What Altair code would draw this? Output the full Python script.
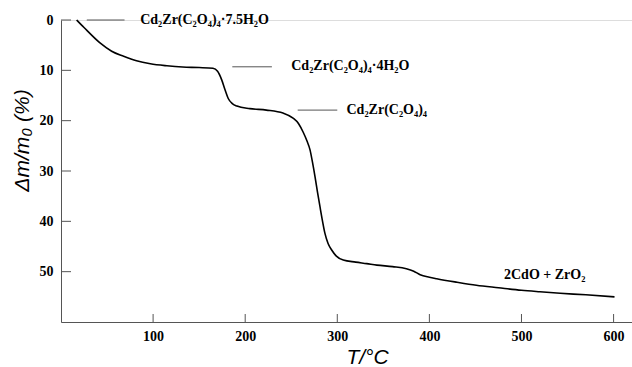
import altair as alt
import pandas as pd

# TGA curve
temp = [17, 25, 42, 55, 68, 82, 97, 115, 132, 150, 165, 170, 174.5, 178, 181.6, 186, 191,
        205, 223, 241, 252, 258, 263, 267, 270.4, 273, 275.8, 278.5, 281.2, 284, 286.6, 290,
        293.9, 299, 306.5, 320, 332, 343, 360, 375, 383, 390, 400, 408, 430, 451, 475, 500,
        520, 542, 570, 601]
mass_loss = [0, 1.5, 4.5, 6.2, 7.2, 8.1, 8.7, 9.1, 9.35, 9.45, 9.6, 10.2, 11.9, 13.8, 15.6, 16.6, 17.1,
             17.6, 17.9, 18.5, 19.5, 20.6, 22.3, 24.0, 25.8, 28.2, 31.1, 34.2, 37.1, 40.0, 42.4, 44.4,
             45.7, 46.9, 47.7, 48.1, 48.4, 48.7, 49.0, 49.4, 49.9, 50.6, 51.1, 51.4, 52.1, 52.7, 53.2, 53.7,
             54.0, 54.3, 54.6, 55.0]

# annotations
label_text = ["Cd₂Zr(C₂O₄)₄·7.5H₂O", "Cd₂Zr(C₂O₄)₄·4H₂O", "Cd₂Zr(C₂O₄)₄", "2CdO + ZrO₂"]
label_t = [86, 250, 310, 481]
label_m = [0, 9.2, 17.9, 50.6]
leader_t1 = [28, 186, 257]
leader_t2 = [69, 229, 300]
leader_m = [0, 9.3, 17.9]

x_ticks = [100, 200, 300, 400, 500, 600]
y_ticks = [0, 10, 20, 30, 40, 50]

curve = pd.DataFrame({"T": temp, "m": mass_loss})
labels = pd.DataFrame({"T": label_t, "m": label_m, "text": label_text})
leaders = pd.DataFrame({"T": leader_t1, "T2": leader_t2, "m": leader_m})
xt = pd.DataFrame({"T": x_ticks})
yt = pd.DataFrame({"m": y_ticks})

W, H = 571, 302
xscale = alt.Scale(domain=[0, 620], nice=False, zero=False)
yscale = alt.Scale(domain=[0, 60], reverse=True, nice=False, zero=False)

xaxis = alt.Axis(values=x_ticks, ticks=False, grid=False, domainColor="#555", domainWidth=1,
                 labelFont="Liberation Serif", labelFontWeight="bold", labelFontSize=14,
                 labelColor="black", labelPadding=7, title="T/°C",
                 titleFont="Liberation Sans", titleFontSize=21, titleFontWeight="normal",
                 titleFontStyle="italic", titleColor="black",
                 titleX=306, titleY=41, titleBaseline="alphabetic", titleAlign="center")
yaxis = alt.Axis(values=y_ticks, ticks=False, grid=False, domainColor="#555", domainWidth=1,
                 labelFont="Liberation Serif", labelFontWeight="bold", labelFontSize=14,
                 labelColor="black", labelPadding=8, title="Δm/m₀ (%)",
                 titleFont="Liberation Sans", titleFontSize=21, titleFontWeight="normal",
                 titleFontStyle="italic", titleColor="black", titleAngle=270,
                 titleX=-33, titleY=120, titleBaseline="alphabetic", titleAlign="center")

line = alt.Chart(curve).mark_line(color="black", strokeWidth=1.6, interpolate="monotone").encode(
    x=alt.X("T:Q", scale=xscale, axis=xaxis),
    y=alt.Y("m:Q", scale=yscale, axis=yaxis),
)

ytick_marks = alt.Chart(yt).mark_rule(color="#555", strokeWidth=1).encode(
    x=alt.value(0), x2=alt.value(10), y=alt.Y("m:Q", scale=yscale)
)
xtick_marks = alt.Chart(xt).mark_rule(color="#555", strokeWidth=1).encode(
    x=alt.X("T:Q", scale=xscale), y=alt.value(H), y2=alt.value(H - 8)
)

leader_marks = alt.Chart(leaders).mark_rule(color="#555", strokeWidth=1).encode(
    x=alt.X("T:Q", scale=xscale), x2="T2:Q", y=alt.Y("m:Q", scale=yscale)
)

text_marks = alt.Chart(labels).mark_text(
    font="Liberation Serif", fontWeight="bold", fontSize=14, color="black",
    align="left", baseline="middle"
).encode(
    x=alt.X("T:Q", scale=xscale), y=alt.Y("m:Q", scale=yscale), text="text:N"
)

chart = alt.layer(line, ytick_marks, xtick_marks, leader_marks, text_marks).properties(
    width=W, height=H,
    autosize=alt.AutoSizeParams(type="none"),
    padding={"left": 61, "top": 20, "right": 0, "bottom": 45},
).configure_view(stroke=None).configure(background="white")

chart.save("out.html", embed_options={"renderer": "svg", "actions": False})
